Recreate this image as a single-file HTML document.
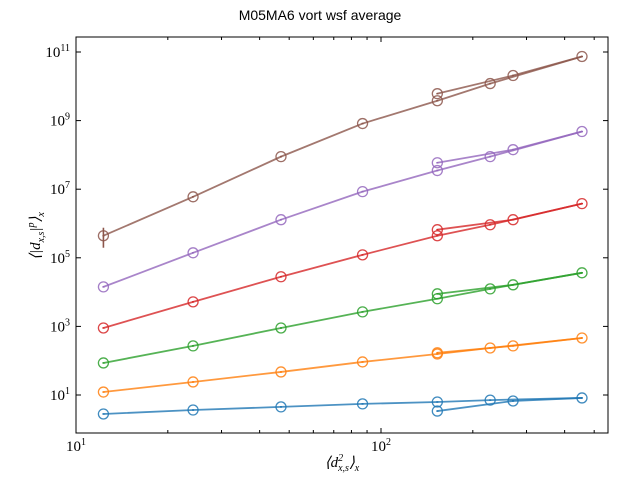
<!DOCTYPE html>
<html><head><meta charset="utf-8"><style>
body{margin:0;background:#fff}
svg{display:block}
.tl{font-family:"Liberation Serif",serif;font-size:15px;fill:#000}
</style></head><body>
<svg id="chart" width="640" height="480" xmlns="http://www.w3.org/2000/svg">
<rect width="640" height="480" fill="#fff"/>
<text x="320" y="20" text-anchor="middle" font-family="Liberation Sans, sans-serif" font-size="14">M05MA6 vort wsf average</text>
<g id="plot"></g>
<text x="342" y="467" text-anchor="middle" class="tl" font-style="italic">⟨d<tspan font-size="10" dy="-6">2</tspan><tspan font-size="10" dx="-5" dy="10">x,s</tspan><tspan dy="-4">⟩</tspan><tspan font-size="10" dy="4">x</tspan></text>
<text transform="translate(40,236) rotate(-90)" text-anchor="middle" class="tl" font-style="italic">⟨|d<tspan font-size="10" dy="4">x,s</tspan><tspan dy="-4">|</tspan><tspan font-size="10" dy="-6">p</tspan><tspan dy="6">⟩</tspan><tspan font-size="10" dy="4">x</tspan></text>
</svg>
<script>
const xMain = [12.3, 24.2, 47, 87, 153];
const xAlt = [153, 228, 271, 456];
const xEnd = 456;
const seriesNames = ["blue","orange","green","red","purple","brown"];
const colors = ["#1f77b4","#ff7f0e","#2ca02c","#d62728","#9467bd","#8c564b"];
const mainBlue = [2.8, 3.65, 4.5, 5.5, 6.25];
const altBlue = [3.4, 7.1, 6.7, 8.2];
const mainOrange = [12.2, 24, 47, 92, 157];
const altOrange = [170, 235, 270, 460];
const mainGreen = [86, 270, 900, 2650, 6400];
const altGreen = [8900, 12400, 16300, 36500];
const mainRed = [900, 5200, 28000, 122000, 440000];
const altRed = [660000, 920000, 1290000, 3800000];
const mainPurple = [14200, 140000, 1290000, 8500000, 35000000];
const altPurple = [59000000, 89000000, 142000000, 480000000];
const mainBrown = [440000, 6000000, 89000000, 820000000, 3800000000];
const altBrown = [6100000000, 12000000000, 20600000000, 74000000000];
const mains = [mainBlue, mainOrange, mainGreen, mainRed, mainPurple, mainBrown];
const alts = [altBlue, altOrange, altGreen, altRed, altPurple, altBrown];
const yTickExp = [1,3,5,7,9,11];
const xMajorExp = [1,2];
const xMinor = [20,30,40,50,60,70,80,90,200,300,400,500];

const L=76,R=608,T=37,B=433;
function sx(v){return L+(Math.log10(v)-1)*305;}
function sy(v){return 395-(Math.log10(v)-1)*34.3;}
const NS="http://www.w3.org/2000/svg";
const g=document.getElementById('plot');
function mk(t,a,p){const e=document.createElementNS(NS,t);for(const k in a)e.setAttribute(k,a[k]);(p||g).appendChild(e);return e;}

mains.forEach((m,i)=>{
  const a=alts[i];
  const c=colors[i];
  const pts1=xMain.map((x,j)=>sx(x)+','+sy(m[j])).concat([sx(xAlt[1])+','+sy(a[1]),sx(xEnd)+','+sy(a[3])]);
  const l1=mk('polyline',{points:pts1.join(' '),fill:'none',stroke:c,'stroke-width':1.8,'stroke-opacity':0.8});
  
  
  const pts2=[sx(xAlt[0])+','+sy(a[0]),sx(xAlt[2])+','+sy(a[2]),sx(xAlt[3])+','+sy(a[3])];
  const l2=mk('polyline',{points:pts2.join(' '),fill:'none',stroke:c,'stroke-width':1.8,'stroke-opacity':0.8});
  
  
  const all=xMain.map((x,j)=>[x,m[j]]).concat(xAlt.map((x,j)=>[x,a[j]]));
  all.forEach(p=>{
    const ci=mk('circle',{cx:sx(p[0]),cy:sy(p[1]),r:5,fill:'none',stroke:c,'stroke-width':1.3,'stroke-opacity':0.85});
    
    
    mk('line',{x1:sx(p[0])-1,x2:sx(p[0])+1,y1:sy(p[1]),y2:sy(p[1]),stroke:c,'stroke-width':1.5});
  });
});
const eb=mk('line',{x1:sx(xMain[0]),x2:sx(xMain[0]),y1:sy(mainBrown[0])-8,y2:sy(mainBrown[0])+12,stroke:colors[5],'stroke-width':1.6});



const frame=mk('rect',{x:L,y:T,width:R-L,height:B-T,fill:'none',stroke:'#000','stroke-width':1});



yTickExp.forEach(e=>{
  const y=sy(Math.pow(10,e));
  mk('line',{x1:L,x2:L+5,y1:y,y2:y,stroke:'#000'});
  mk('line',{x1:R,x2:R-5,y1:y,y2:y,stroke:'#000'});
  const t=mk('text',{x:L-6,y:y+5,'text-anchor':'end',class:'tl'});
  t.innerHTML='10<tspan font-size="10" dy="-6">'+e+'</tspan>';
  
  
});
xMajorExp.forEach(e=>{
  const x=sx(Math.pow(10,e));
  mk('line',{x1:x,x2:x,y1:B,y2:B-5,stroke:'#000'});
  mk('line',{x1:x,x2:x,y1:T,y2:T+5,stroke:'#000'});
  const t=mk('text',{x:x,y:B+18,'text-anchor':'middle',class:'tl'});
  t.innerHTML='10<tspan font-size="10" dy="-6">'+e+'</tspan>';
  
  
});
xMinor.forEach(v=>{
  const x=sx(v);
  mk('line',{x1:x,x2:x,y1:B,y2:B-3,stroke:'#000'});
  mk('line',{x1:x,x2:x,y1:T,y2:T+3,stroke:'#000'});
});
</script>
</body></html>
